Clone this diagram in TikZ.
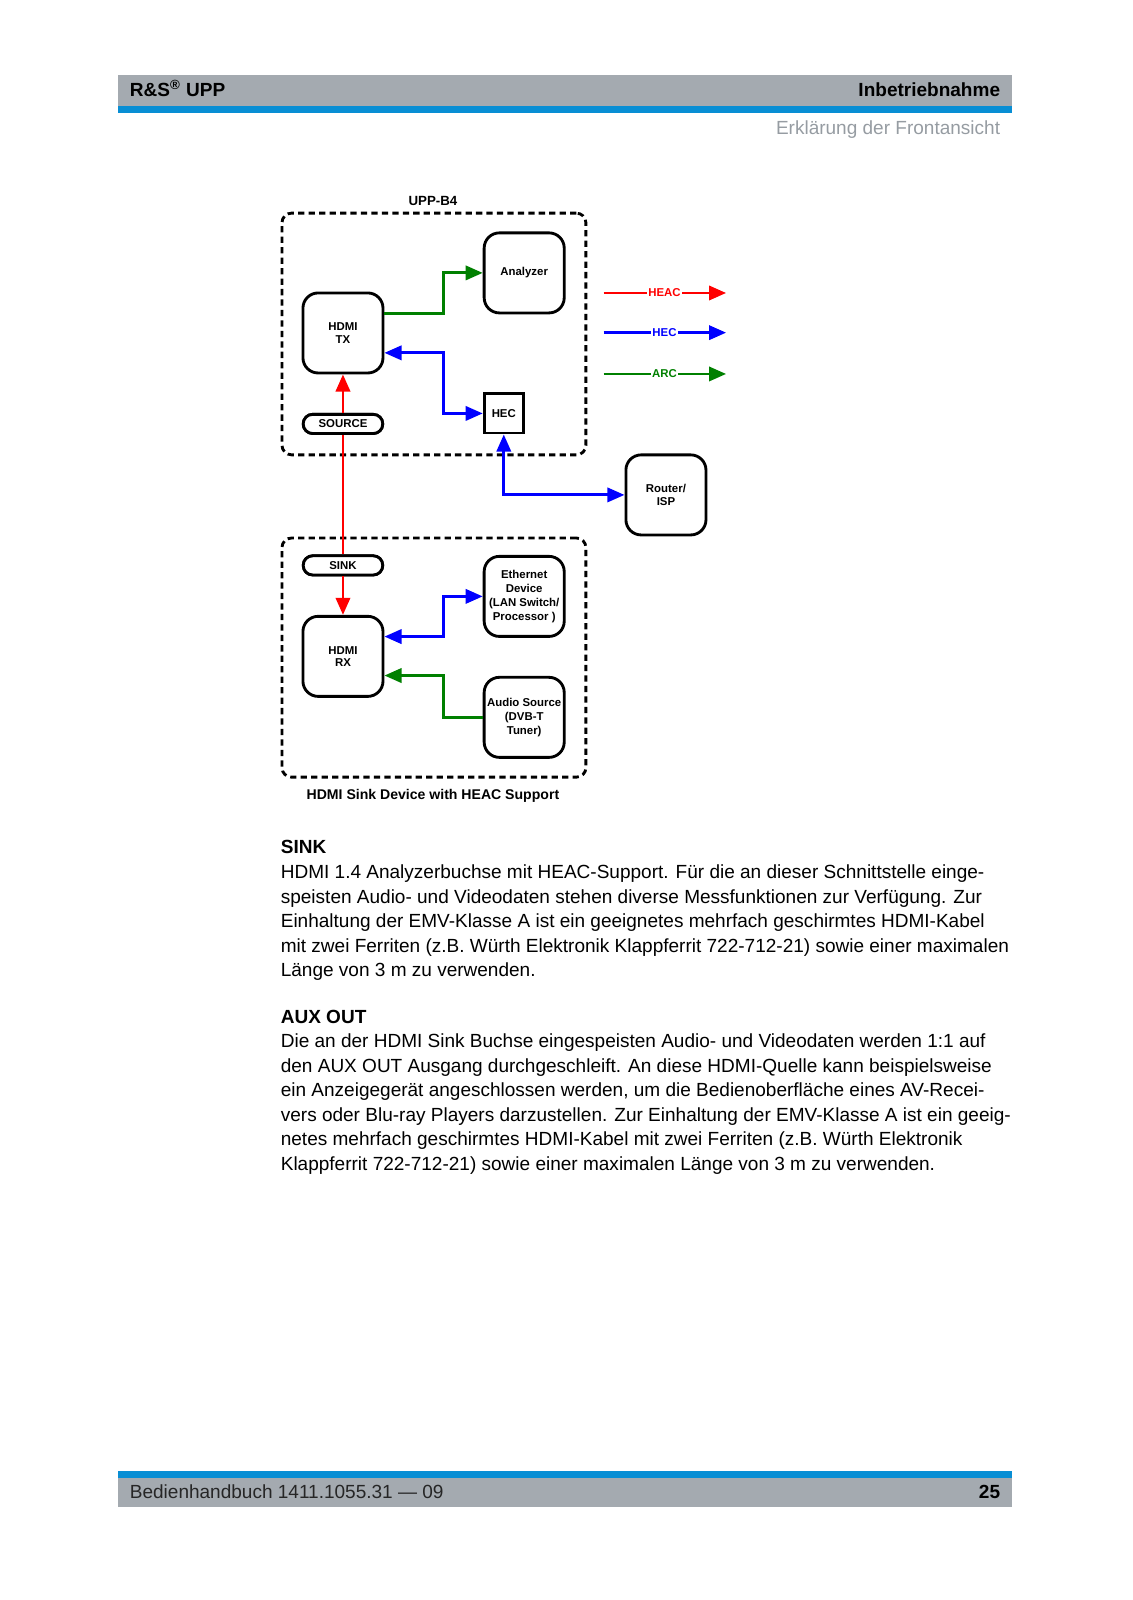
\documentclass[tikz,border=0pt]{standalone}
\usepackage{fontspec}
\setmainfont{Liberation Sans}
\usetikzlibrary{arrows.meta,calc}
\definecolor{hdrgray}{RGB}{164,170,176}
\definecolor{hdrblue}{RGB}{8,142,212}
\definecolor{subgray}{RGB}{150,156,162}
\definecolor{grn}{RGB}{0,128,0}
\def\U{0.53629pt}
\begin{document}
\begin{tikzpicture}[x=0.53629pt,y=-0.53629pt,
  >={Triangle[length=9pt,width=7.5pt]},
  box/.style={draw, line width=1.5pt, rounded corners=8pt, minimum width=78.5*\U, minimum height=78.5*\U, inner sep=0pt, align=center, fill=white, font=\fontsize{6}{6.6}\selectfont\bfseries},
  pill/.style={draw, line width=1.5pt, rounded corners=5pt, minimum width=78*\U, minimum height=18.8*\U, inner sep=0pt, fill=white, font=\fontsize{6}{6.6}\selectfont\bfseries},
  sqbox/.style={draw, line width=1.5pt, minimum width=38.5*\U, minimum height=38.5*\U, inner sep=0pt, fill=white, font=\fontsize{6}{6.6}\selectfont\bfseries},
  grp/.style={draw, line width=1.5pt, dash pattern=on 3.3pt off 2.2pt, rounded corners=5pt, minimum width=298*\U, inner sep=0pt},
  conn/.style={line width=1.5pt},
  lbl/.style={font=\fontsize{7}{8}\selectfont\bfseries, inner sep=0pt},
  legtxt/.style={fill=white, inner xsep=0.6pt, inner ysep=1pt, font=\fontsize{6}{7}\selectfont\bfseries},
  body/.style={anchor=base west, inner sep=0pt, font=\fontsize{10}{12}\selectfont},
  head/.style={anchor=base west, inner sep=0pt, font=\fontsize{10}{12}\selectfont\bfseries}
]
\useasboundingbox (0,0) rectangle (1110,1568.9);
% header and footer bars
\fill[hdrgray] (116,73.5) rectangle (992,104);
\fill[hdrblue] (116,104) rectangle (992,110.5);
\fill[hdrblue] (116,1442) rectangle (992,1449.3);
\fill[hdrgray] (116,1449.3) rectangle (992,1478);
\node[head] (hl) at (127,94.8) {R\&S\textsuperscript{\textregistered} UPP};
\node[head, anchor=base east] (hr) at (981,94.8) {Inbetriebnahme};
\node[body, anchor=base east, text=subgray] (hs) at (981,131.5) {Erklärung der Frontansicht};
\node[body, text=black!85] (fl) at (127,1469.5) {Bedienhandbuch 1411.1055.31 — 09};
\node[head, anchor=base east] (fr) at (981,1469.5) {25};

% group boxes
\node[grp, minimum height=237*\U] (g1) at (425.5,327.5) {};
\node[grp, minimum height=234.5*\U] (g2) at (425.5,644.8) {};
\node[lbl] (t1) at (424.5,197) {UPP-B4};
\node[lbl, font=\fontsize{7.4}{8}\selectfont\bfseries] (t2) at (424.5,780.5) {HDMI Sink Device with HEAC Support};

\coordinate (txc) at (336.3,326.5);
\coordinate (rxc) at (336.3,643.6);

% nodes
\node[box] (an) at (514,267.6) {Analyzer};
\node[box] (tx) at (txc) {HDMI\\TX};
\node[sqbox] (hec) at (494,405.4) {HEC};
\node[box] (rt) at (653,485.3) {Router/\\ISP};
\node[box] (rx) at (rxc) {HDMI\\RX};
\node[box, font=\fontsize{6}{7.4}\selectfont\bfseries] (eth) at (514,584.8) {Ethernet\\Device\\(LAN Switch/\\Processor )};
\node[box, font=\fontsize{6}{7.4}\selectfont\bfseries] (aud) at (514,703.4) {Audio Source\\(DVB-T\\Tuner)};

\node[pill] (src0) at (336.3,415.7) {};
\node[pill] (snk0) at (336.3,554.4) {};
\draw[line width=1.2pt, red] (src0.south) -- (snk0.north);
\node[pill] (src) at (336.3,415.7) {SOURCE};
\node[pill] (snk) at (336.3,554.4) {SINK};

\draw[conn, red, ->] (src.north) -- (tx.south);
\draw[conn, red, ->] (snk.south) -- (rx.north);
\draw[conn, grn, ->] ($(tx.east)+(0,-19.5)$) -- ($(tx.east)+(58.3,-19.5)$) |- (an.west);
\draw[conn, blue, <->] ($(tx.east)+(0,19.5)$) -- ($(tx.east)+(58.3,19.5)$) |- (hec.west);
\draw[conn, blue, <->] (hec.south) |- (rt.west);
\draw[conn, blue, <->] ($(rx.east)+(0,-19.4)$) -- ($(rx.east)+(58.3,-19.4)$) |- (eth.west);
\draw[conn, grn, ->] (aud.west) -| ($(rx.east)+(58.3,18.8)$) -- ($(rx.east)+(0,18.8)$);

% legend
\coordinate (la1) at (592,287.3);
\coordinate (lb1) at (712,287.3);
\coordinate (la2) at (592,326.2);
\coordinate (lb2) at (712,326.2);
\coordinate (la3) at (592,366.7);
\coordinate (lb3) at (712,366.7);
\draw[conn, red, ->] (la1) -- (lb1) node[legtxt, text=red, pos=0.496] (lt1) {HEAC};
\draw[conn, blue, ->] (la2) -- (lb2) node[legtxt, text=blue, pos=0.496] (lt2) {HEC};
\draw[conn, grn, ->] (la3) -- (lb3) node[legtxt, text=grn, pos=0.496] (lt3) {ARC};

% text
\node[head] (h1) at (275,836.5) {SINK};
\node[body] (s1) at (275,861.5) {HDMI 1.4 Analyzerbuchse mit HEAC-Support. Für die an dieser Schnittstelle einge-};
\node[body] (s2) at (275,885.5) {speisten Audio- und Videodaten stehen diverse Messfunktionen zur Verfügung. Zur};
\node[body] (s3) at (275,909.5) {Einhaltung der EMV-Klasse A ist ein geeignetes mehrfach geschirmtes HDMI-Kabel};
\node[body] (s4) at (275,933.5) {mit zwei Ferriten (z.B. Würth Elektronik Klappferrit 722-712-21) sowie einer maximalen};
\node[body] (s5) at (275,957.5) {Länge von 3 m zu verwenden.};
\node[head] (h2) at (275,1003.5) {AUX OUT};
\node[body] (a1) at (275,1027.5) {Die an der HDMI Sink Buchse eingespeisten Audio- und Videodaten werden 1:1 auf};
\node[body] (a2) at (275,1051.5) {den AUX OUT Ausgang durchgeschleift. An diese HDMI-Quelle kann beispielsweise};
\node[body] (a3) at (275,1075.5) {ein Anzeigegerät angeschlossen werden, um die Bedienoberfläche eines AV-Recei-};
\node[body] (a4) at (275,1099.5) {vers oder Blu-ray Players darzustellen. Zur Einhaltung der EMV-Klasse A ist ein geeig-};
\node[body] (a5) at (275,1123.5) {netes mehrfach geschirmtes HDMI-Kabel mit zwei Ferriten (z.B. Würth Elektronik};
\node[body] (a6) at (275,1147.5) {Klappferrit 722-712-21) sowie einer maximalen Länge von 3 m zu verwenden.};
\end{tikzpicture}
\end{document}
